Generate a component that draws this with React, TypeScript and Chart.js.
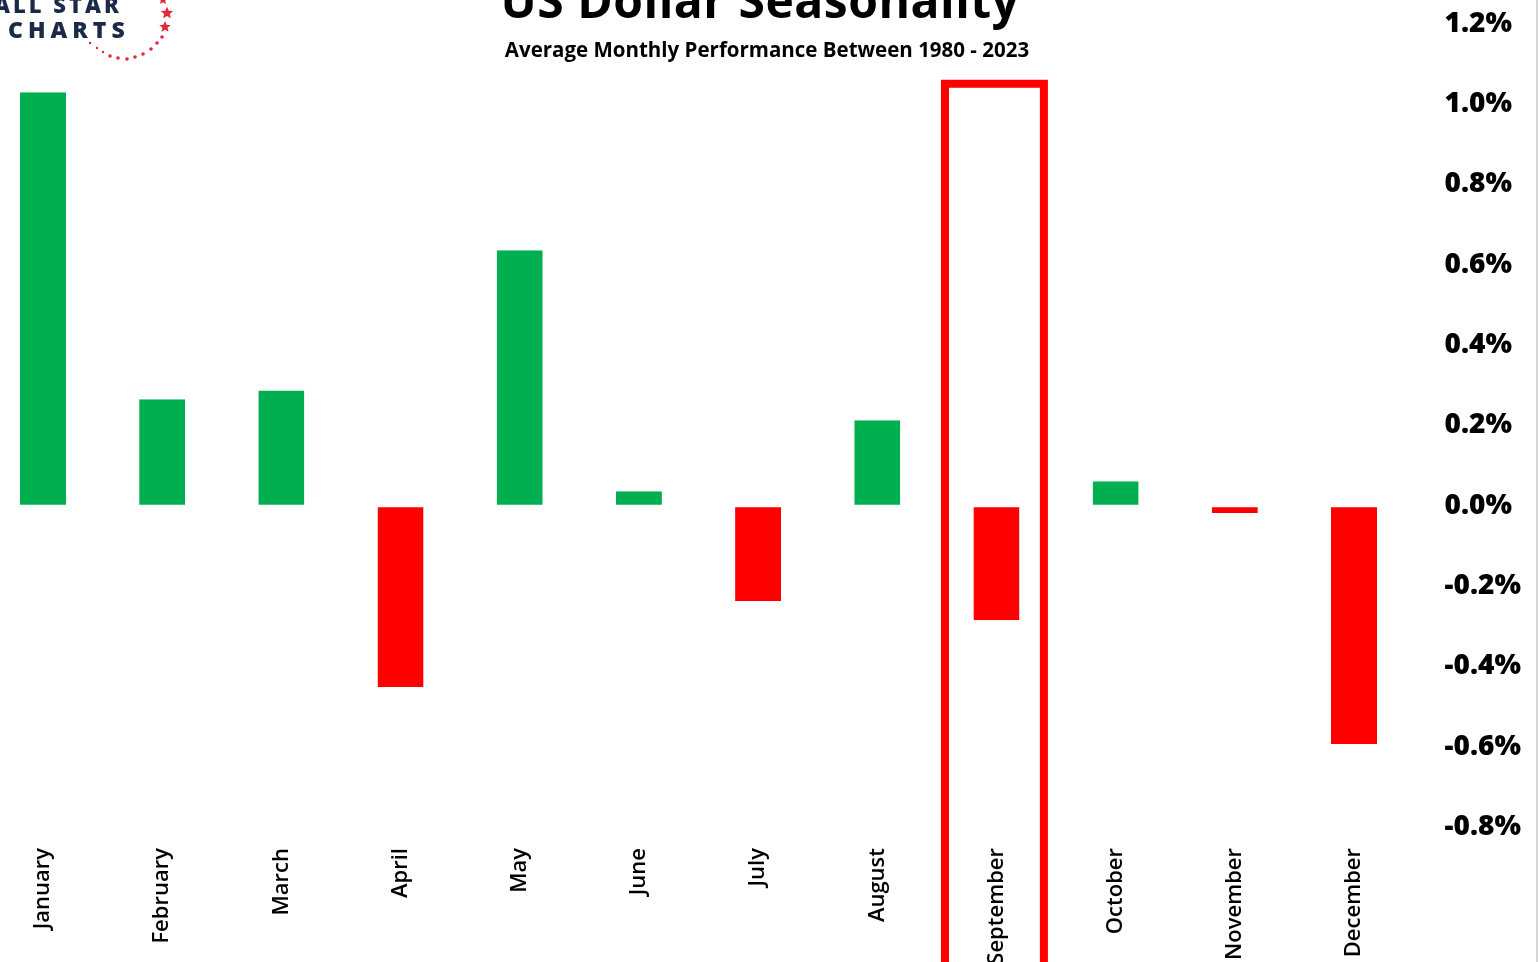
import React, { useEffect, useRef } from "react";
import { Chart, registerables } from "chart.js";

Chart.register(...registerables);

const months = ["January", "February", "March", "April", "May", "June", "July", "August", "September", "October", "November", "December"];
const avgReturn = [1.029, 0.265, 0.287, -0.451, 0.636, 0.036, -0.237, 0.213, -0.285, 0.061, -0.018, -0.593];
const yMin = -0.832;
const yMax = 1.25;
const yStep = 0.2;
const highlightMonth = "September";
const titleText = "US Dollar Seasonality";
const subtitleText = "Average Monthly Performance Between 1980 - 2023";

const GREEN = "#00b050";
const RED = "#ff0000";
const OFFX = 40; // canvas is shifted left by this many px

function star(ctx: CanvasRenderingContext2D, cx: number, cy: number, r: number) {
  ctx.beginPath();
  for (let i = 0; i < 10; i++) {
    const rad = i % 2 === 0 ? r : r * 0.45;
    const a = -Math.PI / 2 + (i * Math.PI) / 5;
    const px = cx + rad * Math.cos(a);
    const py = cy + rad * Math.sin(a);
    if (i === 0) ctx.moveTo(px, py);
    else ctx.lineTo(px, py);
  }
  ctx.closePath();
  ctx.fill();
}

const overlayPlugin = {
  id: "overlay",
  afterDraw(chart: any) {
    const ctx: CanvasRenderingContext2D = chart.ctx;
    const xs = chart.scales.x;
    const ys = chart.scales.y;
    ctx.save();
    // highlight box
    const idx = months.indexOf(highlightMonth);
    const catW = xs.width / months.length;
    const cx = xs.getPixelForValue(idx) - 0.017 * catW;
    const half = catW * 0.415;
    const top = ys.getPixelForValue(1.05);
    ctx.strokeStyle = RED;
    ctx.lineWidth = 8;
    ctx.beginPath();
    ctx.moveTo(cx - half, chart.height + 20);
    ctx.lineTo(cx - half, top);
    ctx.lineTo(cx + half, top);
    ctx.lineTo(cx + half, chart.height + 20);
    ctx.stroke();

    // title
    ctx.fillStyle = "#000";
    ctx.textAlign = "center";
    ctx.textBaseline = "alphabetic";
    (ctx as any).letterSpacing = "0.5px";
    ctx.font = "700 48px 'Open Sans'";
    ctx.fillText(titleText, 760 + OFFX, 18);
    (ctx as any).letterSpacing = "0px";
    ctx.font = "700 20.5px 'Open Sans'";
    ctx.fillText(subtitleText, 767 + OFFX, 57);

    // logo
    ctx.fillStyle = "#1b2a47";
    ctx.textAlign = "left";
    (ctx as any).letterSpacing = "3px";
    ctx.font = "800 22px 'Open Sans'";
    ctx.fillText("ALL STAR", -6 + OFFX, 13);
    (ctx as any).letterSpacing = "5px";
    ctx.font = "800 23px 'Open Sans'";
    ctx.fillText("CHARTS", 8 + OFFX, 38);
    (ctx as any).letterSpacing = "0px";
    ctx.fillStyle = "#e0283a";
    const dots = [[90, 43], [97, 48], [103, 52], [110, 56], [118, 58], [127, 59], [135, 57], [143, 54], [151, 49], [157, 43], [162, 37]];
    dots.forEach(([dx, dy], i) => {
      ctx.beginPath();
      ctx.arc(dx + OFFX, dy, i < 3 ? 1.2 : 1.8, 0, Math.PI * 2);
      ctx.fill();
    });
    star(ctx, 165 + OFFX, 27, 6);
    star(ctx, 167 + OFFX, 13, 6.5);
    star(ctx, 163 + OFFX, 0, 5);

    // right border
    ctx.fillStyle = "#d6d6d6";
    ctx.fillRect(chart.width - 2, 0, 2, chart.height);
    ctx.restore();
  },
};

export default function App() {
  const ref = useRef<HTMLCanvasElement | null>(null);
  useEffect(() => {
    if (!ref.current) return;
    const chart = new Chart(ref.current, {
      type: "bar",
      data: {
        labels: months,
        datasets: [
          {
            data: avgReturn,
            backgroundColor: avgReturn.map((v) => (v >= 0 ? GREEN : RED)),
            borderColor: "#ffffff",
            borderSkipped: false,
            borderWidth: (c: any) => {
              const v = c.raw as number;
              return v >= 0 ? { top: 0, left: 0, right: 0, bottom: 1 } : { top: 1.5, left: 0, right: 0, bottom: 0 };
            },
            barPercentage: 0.386,
            categoryPercentage: 1,
          },
        ],
      },
      options: {
        animation: false,
        responsive: false,
        maintainAspectRatio: false,
        layout: { padding: { left: 23.4, top: 3.5, right: 0, bottom: 0 } },
        plugins: { legend: { display: false }, tooltip: { enabled: false }, title: { display: false } },
        scales: {
          x: {
            grid: { display: false, drawTicks: false },
            border: { display: false },
            ticks: {
              minRotation: 90,
              maxRotation: 90,
              padding: 8,
              color: "#000",
              autoSkip: false,
              font: { family: "'Open Sans'", size: 22, weight: "600" },
            },
            afterFit: (s: any) => {
              s.height = 122;
              s.paddingLeft = 0;
              s.paddingRight = 0;
            },
          },
          y: {
            position: "right",
            min: yMin,
            max: yMax,
            grid: { display: false, drawTicks: false },
            border: { display: false },
            ticks: {
              stepSize: yStep,
              includeBounds: false,
              padding: 31,
              color: "#000",
              font: { family: "'Open Sans'", size: 28, weight: "800" },
              callback: (v: any) => Number(v).toFixed(1) + "%",
            },
            afterFit: (s: any) => {
              s.width = 124.4;
              s.paddingTop = 0;
              s.paddingBottom = 0;
            },
          },
        },
      },
      plugins: [overlayPlugin],
    });
    return () => chart.destroy();
  }, []);
  return (
    <div style={{ position: "fixed", left: 0, top: 0, width: 1538, height: 962, overflow: "hidden", background: "#fff" }}>
      <canvas ref={ref} width={1578} height={962} style={{ position: "absolute", left: -OFFX, top: 0, width: 1578, height: 962 }} />
    </div>
  );
}
